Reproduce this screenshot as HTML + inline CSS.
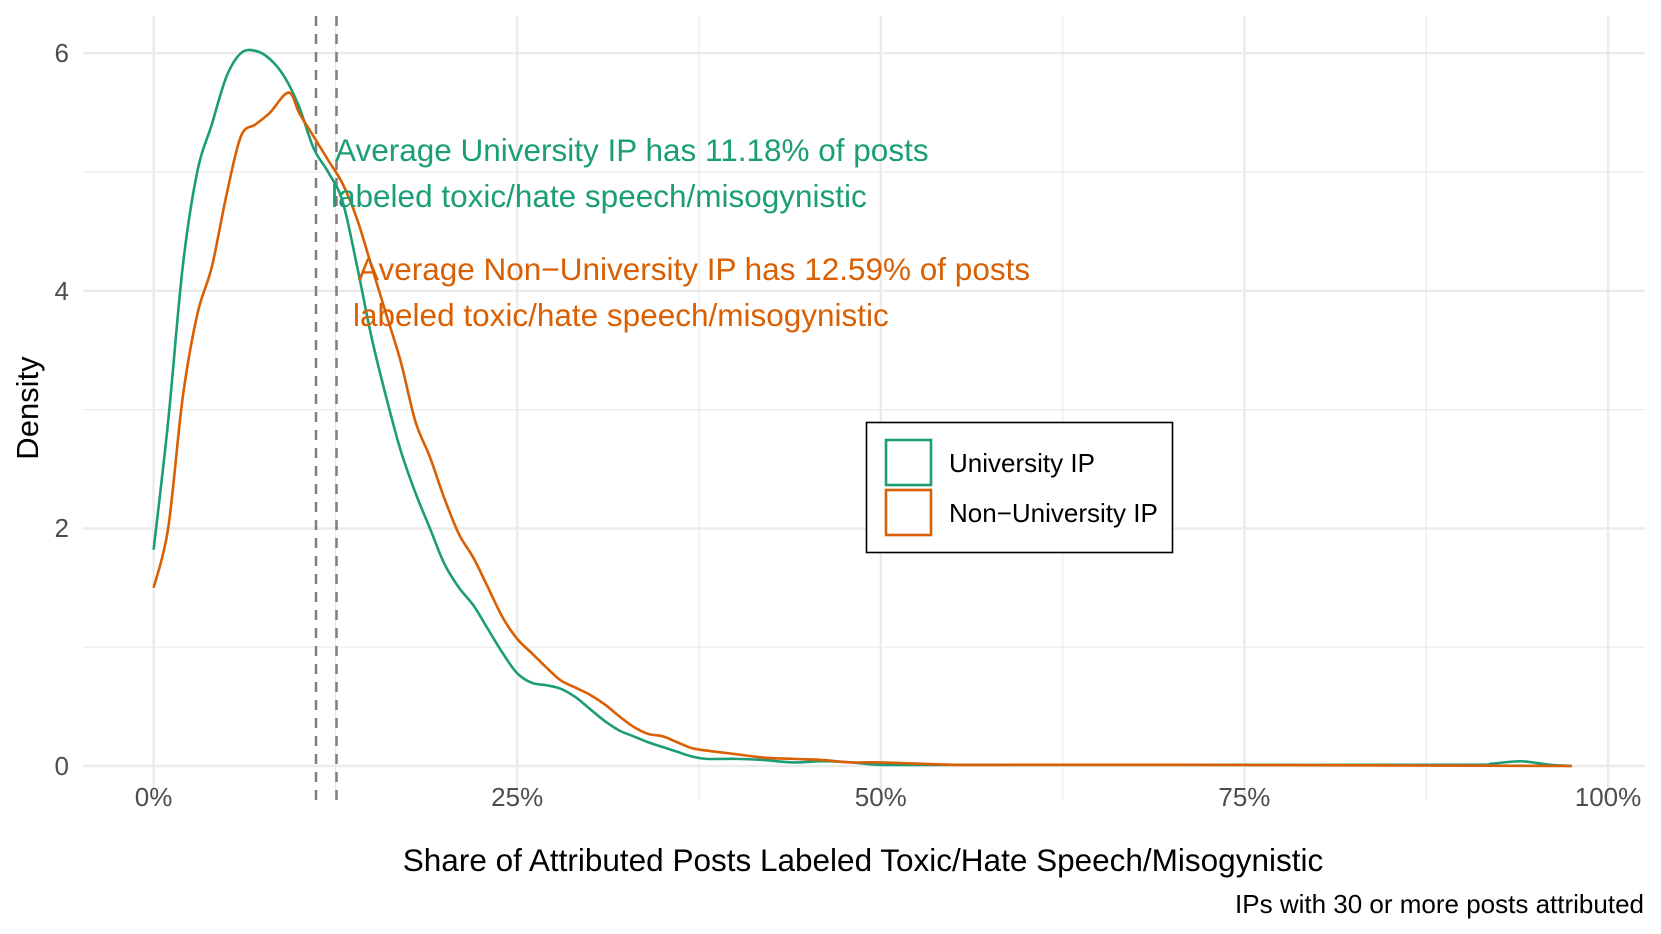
<!DOCTYPE html>
<html><head><meta charset="utf-8"><style>
body{margin:0;background:#fff;}
svg{display:block;font-family:"Liberation Sans",sans-serif;}
</style></head><body>
<svg id="s" width="1661" height="934" viewBox="0 0 1661 934">
<rect width="1661" height="934" fill="#fff"/>
<g id="grid"></g>
<line x1="316" y1="16" x2="316" y2="800" stroke="#7f7f7f" stroke-width="2.5" stroke-dasharray="10,8"/>
<line x1="336.5" y1="16" x2="336.5" y2="800" stroke="#7f7f7f" stroke-width="2.5" stroke-dasharray="10,8"/>
<path id="g" fill="none" stroke="#1b9e77" stroke-width="2.6"/>
<path id="o" fill="none" stroke="#d95f02" stroke-width="2.6"/>
<g font-size="31.5" fill="#1b9e77">
<text x="335" y="161">Average University IP has 11.18% of posts</text>
<text x="331" y="207">labeled toxic/hate speech/misogynistic</text>
</g>
<g font-size="31.5" fill="#d95f02">
<text x="358" y="280">Average Non−University IP has 12.59% of posts</text>
<text x="353" y="326">labeled toxic/hate speech/misogynistic</text>
</g>
<rect x="866.5" y="422.5" width="306" height="130" fill="#fff" stroke="#000" stroke-width="1.6"/>
<rect x="886" y="440" width="45" height="45" fill="none" stroke="#1b9e77" stroke-width="2.6"/>
<rect x="886" y="490" width="45" height="45" fill="none" stroke="#d95f02" stroke-width="2.6"/>
<text x="949" y="472" font-size="26" fill="#000">University IP</text>
<text x="949" y="522" font-size="26" fill="#000">Non−University IP</text>
<g font-size="26" fill="#4d4d4d" text-anchor="middle">
<text x="153.6" y="806">0%</text><text x="517.2" y="806">25%</text><text x="880.8" y="806">50%</text><text x="1244.4" y="806">75%</text><text x="1608" y="806">100%</text>
</g>
<g font-size="26" fill="#4d4d4d" text-anchor="end">
<text x="69" y="775">0</text><text x="69" y="537">2</text><text x="69" y="300">4</text><text x="69" y="62">6</text>
</g>
<text x="863" y="871" font-size="31.5" text-anchor="middle" fill="#000">Share of Attributed Posts Labeled Toxic/Hate Speech/Misogynistic</text>
<text x="1644" y="913" font-size="26" text-anchor="end" fill="#000">IPs with 30 or more posts attributed</text>
<text transform="translate(38,408) rotate(-90)" font-size="31" text-anchor="middle" fill="#000">Density</text>
</svg>
<script>
var X=p=>153.6+p*14.545, Y=d=>766-d*118.8;
var grid='';
for(var d=0;d<=6;d+=1){var y=Y(d);grid+='<line x1="83" x2="1645" y1="'+y+'" y2="'+y+'" stroke="#ebebeb" stroke-width="'+(d%2==0?2.4:1.2)+'"/>';}
for(var p=0;p<=100;p+=12.5){var x=X(p);grid+='<line y1="16" y2="800" x1="'+x+'" x2="'+x+'" stroke="#ebebeb" stroke-width="'+(p%25==0?2.4:1.2)+'"/>';}
document.getElementById('grid').innerHTML=grid;
var G=[[0,1.82],[1,2.9],[2,4.2],[3,5.0],[4,5.4],[5,5.8],[6,6.0],[7,6.02],[8,5.95],[9,5.8],[10,5.55],[11,5.2],[12,5.0],[13,4.75],[14,4.2],[15,3.6],[16,3.1],[17,2.65],[18,2.3],[19,2.0],[20,1.7],[21,1.5],[22,1.35],[23,1.15],[24,0.95],[25,0.78],[26,0.7],[27,0.68],[28,0.65],[29,0.58],[30,0.48],[31,0.38],[32,0.3],[33,0.25],[34,0.2],[35,0.16],[36,0.12],[37,0.08],[38,0.06],[40,0.06],[42,0.05],[44,0.03],[46,0.04],[48,0.03],[50,0.01],[55,0.01],[60,0.01],[70,0.01],[90,0.01],[92,0.02],[94,0.04],[96,0.01],[97.5,0]];
var O=[[0,1.5],[1,2.0],[2,3.1],[3,3.8],[4,4.2],[5,4.8],[6,5.3],[7,5.4],[8,5.5],[9,5.65],[9.5,5.65],[10,5.5],[11,5.3],[12,5.1],[13,4.9],[14,4.6],[15,4.2],[16,3.8],[17,3.4],[18,2.9],[19,2.6],[20,2.25],[21,1.95],[22,1.75],[23,1.5],[24,1.25],[25,1.07],[26,0.95],[27,0.83],[28,0.72],[29,0.66],[30,0.6],[31,0.52],[32,0.42],[33,0.33],[34,0.27],[35,0.25],[36,0.2],[37,0.15],[38,0.13],[40,0.1],[42,0.07],[44,0.06],[46,0.05],[48,0.03],[50,0.03],[55,0.01],[60,0.01],[70,0.01],[97.5,0]];
function path(a){var s='';for(var i=0;i<a.length;i++){var x=X(a[i][0]),y=Y(a[i][1]);if(i==0)s+='M'+x+','+y;else{var p0=a[Math.max(i-2,0)],p1=a[i-1],p2=a[i],p3=a[Math.min(i+1,a.length-1)];var c1x=X(p1[0])+(X(p2[0])-X(p0[0]))/6,c1y=Y(p1[1])+(Y(p2[1])-Y(p0[1]))/6,c2x=X(p2[0])-(X(p3[0])-X(p1[0]))/6,c2y=Y(p2[1])-(Y(p3[1])-Y(p1[1]))/6;s+=' C'+c1x+','+c1y+' '+c2x+','+c2y+' '+x+','+y;}}return s;}
document.getElementById('g').setAttribute('d',path(G));
document.getElementById('o').setAttribute('d',path(O));
</script>
</body></html>
